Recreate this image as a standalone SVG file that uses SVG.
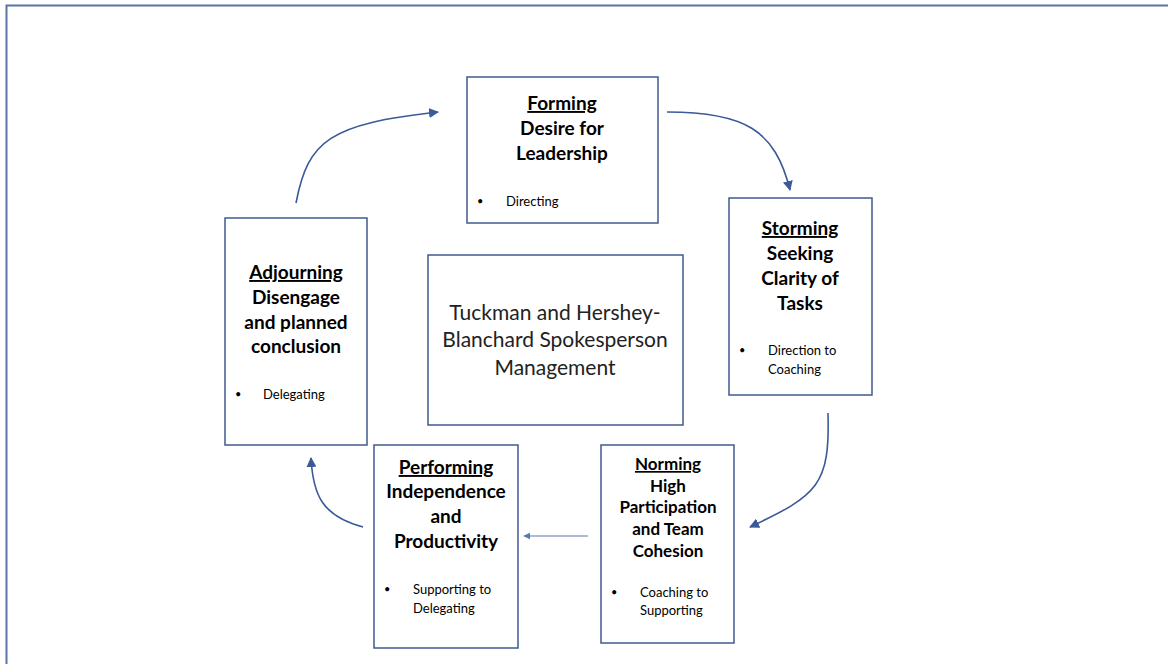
<svg xmlns="http://www.w3.org/2000/svg" width="1168" height="664" viewBox="0 0 1168 664">
<style>
.box{fill:#fff;stroke:#3f5a8e;stroke-width:1.5}
.h{font-family:Lato,"Liberation Sans",sans-serif;font-weight:bold;font-size:19px;fill:#000;text-anchor:middle}
.u{text-decoration:underline}
.b{font-family:Lato,"Liberation Sans",sans-serif;font-size:13px;fill:#000}
.d{font-family:Lato,"Liberation Sans",sans-serif;font-size:11px;fill:#000}
.c{font-family:Lato,"Liberation Sans",sans-serif;font-size:21px;fill:#222;text-anchor:middle}
.conn{fill:none;stroke:#3a5a98;stroke-width:1.6}
</style>
<defs>
<marker id="ah2" viewBox="0 0 10 10" refX="9" refY="5" markerWidth="10" markerHeight="10" orient="auto" markerUnits="userSpaceOnUse">
<path d="M0,0 L10,5 L0,10 z" fill="#3a5a98"/>
</marker>
<marker id="ah3" viewBox="0 0 10 10" refX="9" refY="5" markerWidth="7" markerHeight="7" orient="auto" markerUnits="userSpaceOnUse">
<path d="M0,0 L10,5 L0,10 z" fill="#5878b0"/>
</marker>
</defs>
<rect width="1168" height="664" fill="#fff"/>
<g id="frame"><path d="M6.5,664 V5.5 H1168" fill="none" stroke="#5b74a8" stroke-width="2"/></g>
<g id="connectors">
<path class="conn" d="M296,203 C308,140 330,124 438,112" marker-end="url(#ah2)"/>
<path class="conn" d="M667,112 C745,112 775,130 790,190" marker-end="url(#ah2)"/>
<path class="conn" d="M828,413 C830,485 818,495 750,527" marker-end="url(#ah2)"/>
<path class="conn" d="M363,527 C322,516 313,495 311,458" marker-end="url(#ah2)"/>
<path d="M588,536 H524" fill="none" stroke="#5878b0" stroke-width="1" marker-end="url(#ah3)"/>
</g>
<g id="forming">
<rect class="box" x="467" y="77" width="191" height="146"/>
<text class="h"><tspan class="u" x="562" y="110">Forming</tspan><tspan x="562" y="135">Desire for</tspan><tspan x="562" y="160">Leadership</tspan></text>
<text class="d" x="477" y="205">•</text><text class="b" x="506" y="206">Directing</text>
</g>
<g id="storming">
<rect class="box" x="729" y="198" width="143" height="197"/>
<text class="h"><tspan class="u" x="800" y="235">Storming</tspan><tspan x="800" y="260">Seeking</tspan><tspan x="800" y="285">Clarity of</tspan><tspan x="800" y="310">Tasks</tspan></text>
<text class="d" x="739" y="354">•</text><text class="b"><tspan x="768" y="355">Direction to</tspan><tspan x="768" y="374">Coaching</tspan></text>
</g>
<g id="adjourning">
<rect class="box" x="225" y="218" width="142" height="227"/>
<text class="h"><tspan class="u" x="296" y="279">Adjourning</tspan><tspan x="296" y="304">Disengage</tspan><tspan x="296" y="329">and planned</tspan><tspan x="296" y="353">conclusion</tspan></text>
<text class="d" x="235" y="398">•</text><text class="b" x="263" y="399">Delegating</text>
</g>
<g id="norming">
<rect class="box" x="601" y="445" width="133" height="198"/>
<text class="h" style="font-size:17px"><tspan class="u" x="668" y="470">Norming</tspan><tspan x="668" y="492">High</tspan><tspan x="668" y="513">Participation</tspan><tspan x="668" y="535">and Team</tspan><tspan x="668" y="557">Cohesion</tspan></text>
<text class="d" x="611" y="596">•</text><text class="b"><tspan x="640" y="597">Coaching to</tspan><tspan x="640" y="615">Supporting</tspan></text>
</g>
<g id="performing">
<rect class="box" x="374" y="445" width="144" height="203"/>
<text class="h"><tspan class="u" x="446" y="474">Performing</tspan><tspan x="446" y="498">Independence</tspan><tspan x="446" y="523">and</tspan><tspan x="446" y="548">Productivity</tspan></text>
<text class="d" x="384" y="593">•</text><text class="b"><tspan x="413" y="594">Supporting to</tspan><tspan x="413" y="613">Delegating</tspan></text>
</g>
<g id="center">
<rect class="box" x="428" y="255" width="255" height="170"/>
<text class="c"><tspan x="555" y="320">Tuckman and Hershey-</tspan><tspan x="555" y="347">Blanchard Spokesperson</tspan><tspan x="555" y="375">Management</tspan></text>
</g>
</svg>
